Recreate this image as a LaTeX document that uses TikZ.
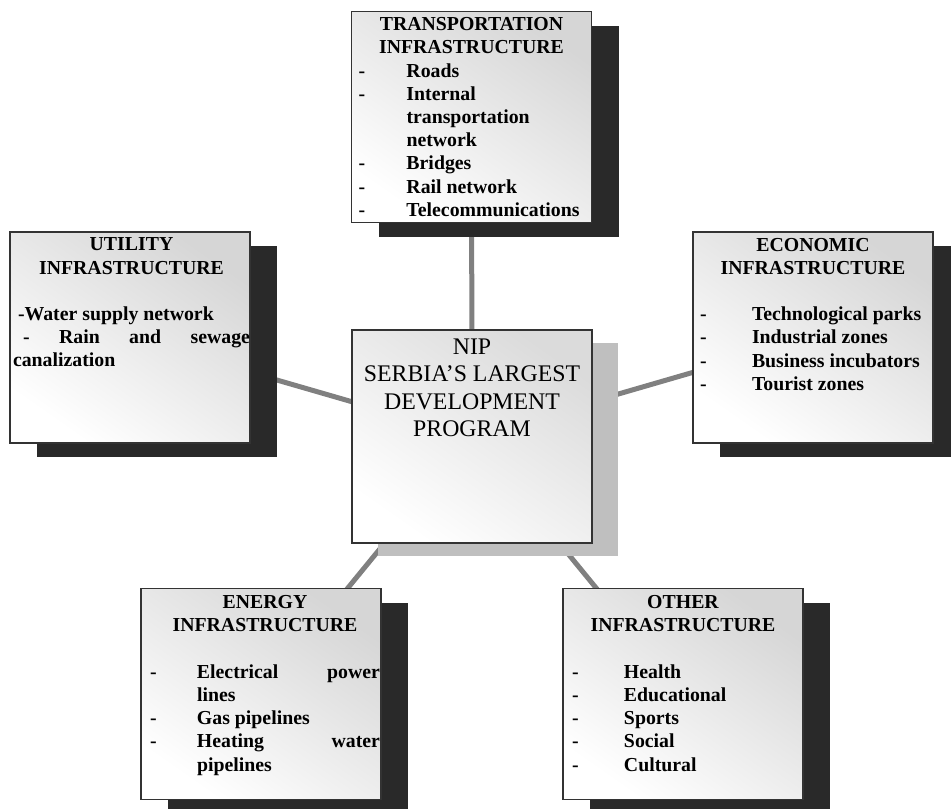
\documentclass[tikz,border=0pt]{standalone}
\usepackage{fontspec}
\setmainfont{Liberation Serif}
\usetikzlibrary{shadows}
\usetikzlibrary{backgrounds}

\newlength\dashgap
\newcommand{\dashitem}[1]{\par\hangindent=\dashgap\hangafter=1\noindent\makebox[\dashgap][l]{-}#1\par}
\newcommand{\boxtitle}[2]{{\centering #1\\#2\par}}

\begin{document}
\begin{tikzpicture}[x=1pt, y=-1pt,
  infobox/.style={draw=black!80, line width=1.4pt, minimum width=240pt, minimum height=211pt, inner sep=0pt,
    top color=black!16, bottom color=white, shading angle=-35,
    drop shadow={shadow xshift=27pt, shadow yshift=-14pt, fill=black!84, opacity=1}},
  nipbox/.style={draw=black!80, line width=1.4pt, minimum width=240pt, minimum height=213pt, inner sep=0pt,
    top color=black!14, bottom color=white, shading angle=-35,
    drop shadow={shadow xshift=26pt, shadow yshift=-13pt, fill=black!25, opacity=1}},
  boxtext/.style={inner sep=0pt, anchor=north, align=justify,
    font=\fontsize{19.8pt}{23.2pt}\selectfont\bfseries,
    execute at begin node={\parindent=0pt\hyphenpenalty=10000\dashgap=#1}},
  niptext/.style={inner sep=0pt, anchor=north, align=center, font=\fontsize{23.8pt}{27.5pt}\selectfont},
  link/.style={draw=black!50, line width=5pt}]
\useasboundingbox (0,0) rectangle (951,809);

% boxes
\node[infobox] (transport) at (471.5,117) {};
\node[infobox] (utility) at (130,337.5) {};
\node[infobox] (economic) at (813,337.5) {};
\node[infobox] (energy) at (261,694) {};
\node[infobox] (other) at (683,694) {};
\node[nipbox] (nip) at (472,436.5) {};

% connectors
\begin{scope}[on background layer]
\foreach \outer in {transport,utility,economic,energy,other}
  \draw[link] (nip.center) -- (\outer.center);
\end{scope}

% texts
\node[niptext] (nip-txt) at ([yshift=-9pt]nip.north) {NIP\\SERBIA’S LARGEST\\DEVELOPMENT\\PROGRAM};
\node[boxtext=48pt, text width=226pt] (transport-txt) at ([yshift=-6.5pt]transport.north)
  {\boxtitle{TRANSPORTATION}{INFRASTRUCTURE}\dashitem{Roads}\dashitem{Internal\\ transportation\\ network}\dashitem{Bridges}\dashitem{Rail network}\dashitem{Telecommunications}};
\node[boxtext=0pt, text width=237pt] (utility-txt) at ([xshift=1.5pt, yshift=-6.5pt]utility.north)
  {\boxtitle{UTILITY}{INFRASTRUCTURE}\vspace{\baselineskip}\hspace*{5pt}-Water supply network\par\hspace*{10pt}- Rain and sewage\linebreak canalization\par};
\node[boxtext=52pt, text width=226pt] (economic-txt) at ([yshift=-6.5pt]economic.north)
  {\boxtitle{ECONOMIC}{INFRASTRUCTURE}\vspace{\baselineskip}\dashitem{Technological parks}\dashitem{Industrial zones}\dashitem{Business incubators}\dashitem{Tourist zones}};
\node[boxtext=47pt, text width=230pt] (energy-txt) at ([xshift=4pt, yshift=-7.5pt]energy.north)
  {\boxtitle{ENERGY}{INFRASTRUCTURE}\vspace{\baselineskip}\dashitem{Electrical power\linebreak lines}\dashitem{Gas pipelines}\dashitem{Heating water\linebreak pipelines}};
\node[boxtext=52pt, text width=222pt] (other-txt) at ([yshift=-7.5pt]other.north)
  {\boxtitle{OTHER}{INFRASTRUCTURE}\vspace{\baselineskip}\dashitem{Health}\dashitem{Educational}\dashitem{Sports}\dashitem{Social}\dashitem{Cultural}};
\end{tikzpicture}
\end{document}
